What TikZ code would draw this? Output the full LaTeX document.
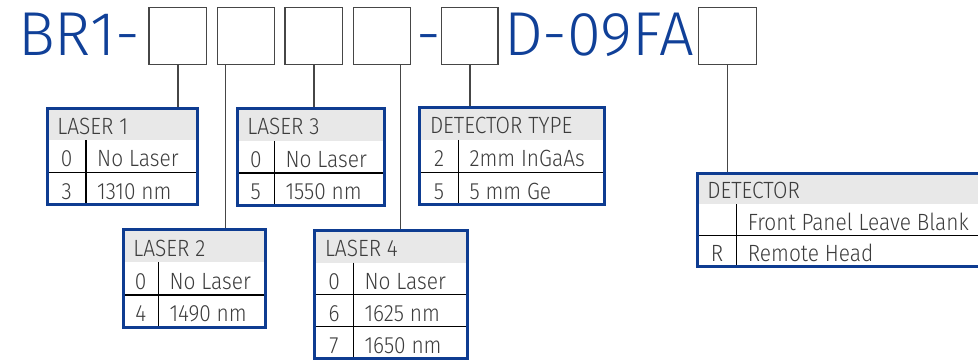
\documentclass[tikz,border=0pt]{standalone}
\usepackage{fontspec}
\setmainfont{Fira Sans}[UprightFont=* Light, FakeStretch=0.89]
\newfontfamily\titlefont{Fira Sans}[UprightFont=* Light, FakeStretch=0.99]
\usetikzlibrary{fit}
\definecolor{brblue}{RGB}{14,60,145}
\definecolor{titleblue}{RGB}{16,64,152}
\definecolor{txtgray}{RGB}{60,60,60}
\definecolor{headfill}{RGB}{232,232,232}
\definecolor{boxline}{RGB}{70,70,70}
\tikzset{
  codebox/.style={draw=boxline, line width=1.5pt, inner sep=0pt},
  tablebox/.style={draw=brblue, line width=3pt, inner sep=0pt},
  leader/.style={draw=boxline, line width=1.5pt},
  rule/.style={draw=black, line width=1.2pt},
  celltext/.style={text=txtgray, font=\fontsize{23.5}{24}\selectfont, inner sep=0pt},
  titletext/.style={text=titleblue, font=\titlefont\fontsize{62}{62}\selectfont, inner sep=0pt, anchor=base west},
}
% #1 name, #2 L, #3 T, #4 R, #5 B, #6 column x, #7 rows incl. header, #8 header, #9 rows
\newcommand\codetable[9]{%
  \pgfmathsetmacro\rh{(#5-#3)/#7}
  \fill[headfill] (#2,#3) rectangle (#4,#3+\rh);
  \node[celltext, anchor=base west] (#1-head) at (#2+10,#3+0.81*\rh) {#8};
  \draw[rule] (#6,#3+\rh) -- (#6,#5);
  \foreach \code/\desc [count=\i] in {#9} {
    \pgfmathsetmacro\rowtop{#3+\i*\rh}
    \ifnum\i>1 \draw[rule] (#2,\rowtop) -- (#4,\rowtop); \fi
    \node[celltext, anchor=base] (#1-c\i) at ({(#2+#6)/2},\rowtop+0.83*\rh) {\code};
    \node[celltext, anchor=base west] (#1-d\i) at (#6+11,\rowtop+0.83*\rh) {\desc};
  }
  \node[tablebox, fit={(#2,#3) (#4,#5)}] (#1) {};
}
\begin{document}
\begin{tikzpicture}[x=1pt, y=-1pt]
  \useasboundingbox (0,0) rectangle (978,361);
  \clip (0,0) rectangle (978,361);
  % title
  \node[titletext] (t1) at (18,56) {BR1-};
  \node[titletext] (t2) at (416,56) {-};
  \node[titletext] (t3) at (504,56) {D-09FA};
  % code boxes
  \node[codebox, fit={(149.2,7.7) (206.3,64.3)}] (b1) {};
  \node[codebox, fit={(217.7,7.7) (274.3,64.3)}] (b2) {};
  \node[codebox, fit={(285.2,7.7) (342.3,64.3)}] (b3) {};
  \node[codebox, fit={(353.7,7.7) (410.3,64.3)}] (b4) {};
  \node[codebox, fit={(441.7,7.7) (498.0,64.3)}] (b5) {};
  \node[codebox, fit={(698.7,7.7) (756.3,64.3)}] (b6) {};
  % tables
  \codetable{l1}{47.2}{108.2}{197.5}{204.5}{86}{3}{LASER 1}{0/No Laser, 3/1310 nm}
  \codetable{l3}{237.2}{108.8}{384.2}{205.2}{274.3}{3}{LASER 3}{0/No Laser, 5/1550 nm}
  \codetable{dt}{419.8}{107.5}{604.2}{204.5}{458.3}{3}{DETECTOR TYPE}{2/2mm InGaAs, 5/5 mm Ge}
  \codetable{l2}{123.2}{229.8}{265.2}{327.5}{158.3}{3}{LASER 2}{0/No Laser, 4/1490 nm}
  \codetable{l4}{314.8}{230.5}{467.8}{358.5}{353.3}{4}{LASER 4}{0/No Laser, 6/1625 nm, 7/1650 nm}
  \codetable{de}{697.2}{173.2}{995}{266.8}{736.7}{3}{DETECTOR}{{}/Front Panel Leave Blank, R/Remote Head}
  % leaders
  \path (b2.south west) ++(8.5,0) coordinate (b2o);
  \path (b4.south west) ++(47.3,0) coordinate (b4o);
  \draw[leader] (b1.south) -- (b1.south |- l1.north);
  \draw[leader] (b2o) -- (b2o |- l2.north);
  \draw[leader] (b3.south) -- (b3.south |- l3.north);
  \draw[leader] (b4o) -- (b4o |- l4.north);
  \draw[leader] (b5.south) -- (b5.south |- dt.north);
  \draw[leader] (b6.south) -- (b6.south |- de.north);
\end{tikzpicture}
\end{document}
